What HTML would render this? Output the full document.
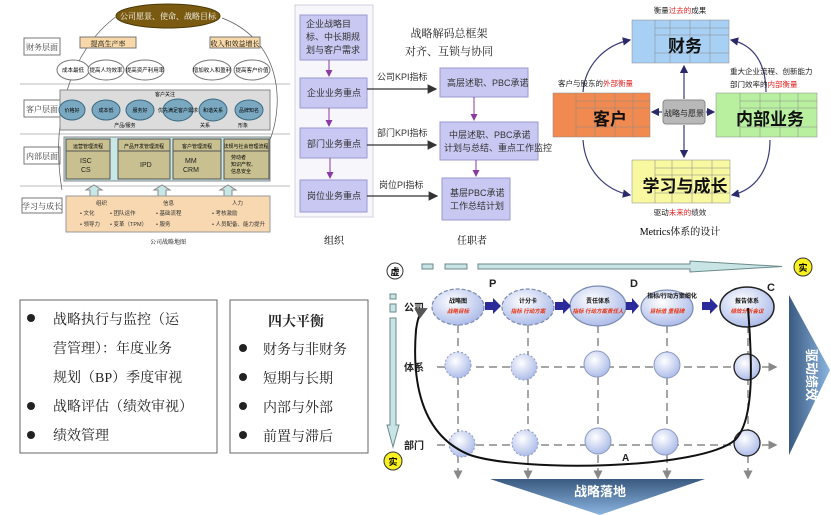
<!DOCTYPE html>
<html><head><meta charset="utf-8"><style>
html,body{margin:0;padding:0;background:#fff;}
svg{display:block;}
text{font-family:"Liberation Sans","Noto Sans CJK SC",sans-serif;}
.s{font-family:"Liberation Serif","Noto Serif CJK SC",serif;}
</style></head><body>
<svg width="831" height="515" viewBox="0 0 831 515" xmlns="http://www.w3.org/2000/svg">
<defs>
<marker id="ah" markerWidth="8" markerHeight="8" refX="7" refY="4" orient="auto"><path d="M0,0 L8,4 L0,8 z" fill="#333"/></marker>
<marker id="ap" markerWidth="7" markerHeight="7" refX="6" refY="3.5" orient="auto"><path d="M0,0 L7,3.5 L0,7 z" fill="#8a3aa0"/></marker>
<marker id="an" markerWidth="7" markerHeight="7" refX="6" refY="3.5" orient="auto"><path d="M0,0 L7,3.5 L0,7 z" fill="#2a2a6a"/></marker>
<marker id="ag" markerWidth="6" markerHeight="6" refX="5" refY="3" orient="auto"><path d="M0,0 L6,3 L0,6 z" fill="#888"/></marker>
<marker id="ak" markerWidth="6" markerHeight="6" refX="5" refY="3" orient="auto"><path d="M0,0 L6,3 L0,6 z" fill="#555"/></marker>
<radialGradient id="bub" cx="40%" cy="35%" r="70%"><stop offset="0" stop-color="#ffffff"/><stop offset="1" stop-color="#a8b8e8"/></radialGradient>
<linearGradient id="bl" x1="0" y1="0" x2="1" y2="0"><stop offset="0" stop-color="#3a5a80"/><stop offset="1" stop-color="#8ab4e0"/></linearGradient>
<linearGradient id="bd" x1="0" y1="0" x2="0" y2="1"><stop offset="0" stop-color="#3a5a80"/><stop offset="1" stop-color="#8ab4e0"/></linearGradient>
</defs>

<!-- ===== Top-left strategy map ===== -->
<g stroke="#bbb" stroke-width="1"><line x1="20" y1="84" x2="290" y2="84"/><line x1="20" y1="134" x2="290" y2="134"/><line x1="20" y1="186" x2="290" y2="186"/></g>
<g fill="#fff" stroke="#777"><rect x="24" y="38" width="36" height="17"/><rect x="24" y="100" width="36" height="17"/><rect x="24" y="147" width="36" height="17"/><rect x="22" y="198" width="40" height="15"/></g>
<g font-size="8" class="s" fill="#333" text-anchor="middle"><text x="42" y="50" class="s">财务层面</text><text x="42" y="112" class="s">客户层面</text><text x="42" y="159" class="s">内部层面</text><text x="42" y="209" class="s">学习与成长</text></g>
<ellipse cx="168" cy="16" rx="52" ry="12" fill="#7a5a10" stroke="#4a3a08"/>
<text x="168" y="19" font-size="8" fill="#fff" text-anchor="middle" class="s">公司愿景、使命、战略目标</text>
<path d="M62,190 C50,120 70,50 117,16" fill="none" stroke="#555" stroke-width="0.7"/>
<path d="M270,140 C285,100 280,40 222,18" fill="none" stroke="#555" stroke-width="0.7"/>
<rect x="80" y="37" width="56" height="11" fill="#f8d8a8" stroke="#777"/><text x="108" y="46" font-size="7" text-anchor="middle" class="s">提高生产率</text>
<rect x="210" y="37" width="50" height="11" fill="#f8d8a8" stroke="#777"/><text x="235" y="46" font-size="7" text-anchor="middle" class="s">收入和效益增长</text>
<g fill="#fff" stroke="#777"><ellipse cx="73" cy="70" rx="16" ry="10"/><ellipse cx="106" cy="70" rx="18" ry="10"/><ellipse cx="145" cy="70" rx="19" ry="10"/><ellipse cx="212" cy="70" rx="19" ry="10"/><ellipse cx="252" cy="70" rx="18" ry="10"/></g>
<g font-size="5.5" text-anchor="middle" class="s"><text x="73" y="72">成本最低</text><text x="106" y="72">提高人均效率</text><text x="145" y="72">提高资产利用率</text><text x="212" y="72">增加收入和盈利</text><text x="252" y="72">提高客户价值</text></g>
<rect x="60" y="90" width="210" height="40" fill="#dcdcdc" stroke="#888"/>
<g fill="#7aa8c0" stroke="#3a6a80"><ellipse cx="72" cy="110" rx="13" ry="10"/><ellipse cx="106" cy="110" rx="14" ry="10"/><ellipse cx="140" cy="110" rx="14" ry="10"/><ellipse cx="178" cy="110" rx="15" ry="11"/><ellipse cx="213" cy="110" rx="14" ry="11"/><ellipse cx="249" cy="110" rx="14" ry="10"/></g>
<g font-size="5" text-anchor="middle" class="s"><text x="72" y="112">价格好</text><text x="106" y="112">成本低</text><text x="140" y="112">服务好</text><text x="178" y="112">优先满足客户需求</text><text x="213" y="112">和谐关系</text><text x="249" y="112">品牌知名</text><text x="165" y="96">客户关注</text><text x="125" y="127">产品/服务</text><text x="205" y="127">关系</text><text x="243" y="127">形象</text></g>
<rect x="64" y="137" width="206" height="44" fill="#c8e8e8" stroke="#888"/>
<g fill="#c8c090" stroke="#555"><rect x="66" y="139" width="44" height="40"/><rect x="118" y="139" width="52" height="40"/><rect x="173" y="139" width="48" height="40"/><rect x="224" y="139" width="45" height="40"/></g>
<g fill="none" stroke="#555"><line x1="66" y1="151" x2="110" y2="151"/><line x1="118" y1="151" x2="170" y2="151"/><line x1="173" y1="151" x2="221" y2="151"/><line x1="224" y1="151" x2="269" y2="151"/></g>
<g font-size="5" text-anchor="middle" class="s"><text x="88" y="148">运营管理流程</text><text x="144" y="148">产品开发管理流程</text><text x="197" y="148">客户管理流程</text><text x="246" y="148">法规与社会管理流程</text></g>
<g font-size="7" fill="#222"><text x="80" y="163">ISC</text><text x="81" y="172">CS</text><text x="140" y="167">IPD</text><text x="185" y="163">MM</text><text x="183" y="172">CRM</text></g>
<g font-size="5" class="s"><text x="231" y="159">劳动者</text><text x="231" y="166">知识产权、</text><text x="231" y="173">信息安全</text></g>
<g fill="#c8e8e8" stroke="#888"><path d="M90,196 v-6 h-4 l8,-5 l8,5 h-4 v6z"/><path d="M158,196 v-6 h-4 l8,-5 l8,5 h-4 v6z"/><path d="M224,196 v-6 h-4 l8,-5 l8,5 h-4 v6z"/></g>
<rect x="66" y="196" width="204" height="36" fill="#f8d8b0" stroke="#999"/>
<g font-size="5.5" class="s" fill="#333"><text x="96" y="205">组织</text><text x="163" y="205">信息</text><text x="232" y="205">人力</text>
<text x="80" y="215">• 文化</text><text x="110" y="215">• 团队运作</text><text x="156" y="215">• 基础流程</text><text x="212" y="215">• 考核激励</text>
<text x="80" y="226">• 领导力</text><text x="110" y="226">• 变革（TPM）</text><text x="156" y="226">• 服务</text><text x="212" y="226">• 人员配备、能力提升</text></g>
<text x="168" y="244" font-size="6" text-anchor="middle" class="s">公司战略地图</text>

<!-- ===== Middle framework ===== -->
<rect x="295" y="5" width="78" height="212" fill="#f7f7fb" stroke="#d0d0e0"/>
<g fill="#c8c8f2" stroke="#9a9ad0"><rect x="300" y="15" width="67" height="45"/><rect x="300" y="78" width="67" height="30"/><rect x="300" y="128" width="67" height="30"/><rect x="300" y="180" width="67" height="32"/>
<rect x="440" y="68" width="88" height="29"/><rect x="440" y="122" width="98" height="38"/><rect x="442" y="178" width="68" height="42"/></g>
<g font-size="9" fill="#333"><text x="306" y="27">企业战略目</text><text x="306" y="40">标、中长期规</text><text x="306" y="53">划与客户需求</text>
<text x="307" y="96">企业业务重点</text><text x="307" y="147">部门业务重点</text><text x="307" y="199">岗位业务重点</text>
<text x="447" y="86">高层述职、PBC承诺</text><text x="449" y="138">中层述职、PBC承诺</text><text x="444" y="151">计划与总结、重点工作监控</text>
<text x="450" y="196">基层PBC承诺</text><text x="450" y="209">工作总结计划</text>
<text x="377" y="80">公司KPI指标</text><text x="377" y="136">部门KPI指标</text><text x="379" y="188">岗位PI指标</text></g>
<g stroke="#8a3aa0" stroke-width="1" marker-end="url(#ap)"><line x1="329" y1="60" x2="329" y2="76"/><line x1="329" y1="108" x2="329" y2="126"/><line x1="330" y1="158" x2="330" y2="178"/><line x1="474" y1="97" x2="474" y2="120"/><line x1="476" y1="160" x2="476" y2="176"/></g>
<g stroke="#333" stroke-width="1.2" marker-end="url(#ah)"><line x1="367" y1="89" x2="436" y2="89"/><line x1="367" y1="145" x2="436" y2="145"/><line x1="367" y1="196" x2="437" y2="196"/></g>
<text x="449" y="37" font-size="11" text-anchor="middle" class="s" fill="#222">战略解码总框架</text>
<text x="449" y="55" font-size="11" text-anchor="middle" class="s" fill="#222">对齐、互锁与协同</text>
<text x="334" y="244" font-size="10" text-anchor="middle" class="s">组织</text>
<text x="472" y="244" font-size="10" text-anchor="middle" class="s">任职者</text>

<!-- ===== Right metrics ===== -->
<g fill="none" stroke="#3a3a7a" stroke-width="1.2" marker-end="url(#an)">
<path d="M583,92 C585,65 605,45 630,40"/><path d="M766,92 C766,65 755,45 731,40"/>
<path d="M583,140 C585,170 605,190 630,195"/><path d="M770,140 C770,170 755,190 732,195"/>
<line x1="684" y1="99" x2="684" y2="66"/><line x1="684" y1="125" x2="684" y2="157"/><line x1="662" y1="112" x2="652" y2="112"/><line x1="706" y1="112" x2="714" y2="112"/></g>
<g stroke="#888" stroke-width="0.5">
<rect x="632" y="20" width="97" height="43" fill="#a8d0f4"/><rect x="553" y="93" width="97" height="44" fill="#f08a50"/><rect x="716" y="93" width="101" height="44" fill="#b8f0a0"/><rect x="632" y="160" width="98" height="43" fill="#f8f8a0"/>
<path d="M655,28 h74 M655,35 h74 M655,53 h74 M655,20 v43 M670,20 v43 M690,20 v43 M710,20 v43" fill="none"/>
<path d="M576,101 h74 M576,108 h74 M576,127 h74 M576,93 v44 M595,93 v44 M615,93 v44 M633,93 v44" fill="none"/>
<path d="M740,101 h77 M740,108 h77 M740,127 h77 M740,93 v44 M760,93 v44 M780,93 v44 M798,93 v44" fill="none"/>
<path d="M655,168 h75 M655,175 h75 M655,193 h75 M655,160 v43 M672,160 v43 M692,160 v43 M712,160 v43" fill="none"/></g>
<g font-size="17" font-weight="bold" fill="#111" text-anchor="middle"><text x="685" y="52">财务</text><text x="610" y="125">客户</text><text x="770" y="125">内部业务</text><text x="685" y="192">学习与成长</text></g>
<rect x="663" y="100" width="42" height="24" rx="3" fill="#b8b8b8" stroke="#888"/>
<text x="684" y="116" font-size="8" text-anchor="middle" fill="#222">战略与愿景</text>
<g font-size="7.5" fill="#222"><text x="680" y="13" text-anchor="middle">衡量<tspan fill="#e02020">过去的</tspan>成果</text>
<text x="558" y="86">客户与股东的<tspan fill="#e02020">外部衡量</tspan></text>
<text x="730" y="74">重大企业流程、创新能力</text><text x="730" y="87">部门效率的<tspan fill="#e02020">内部衡量</tspan></text>
<text x="680" y="215" text-anchor="middle">驱动<tspan fill="#e02020">未来的</tspan>绩效</text></g>
<text x="680" y="235" font-size="10" text-anchor="middle" class="s">Metrics体系的设计</text>

<!-- ===== Bottom-left boxes ===== -->
<rect x="20" y="300" width="197" height="153" fill="#fff" stroke="#666"/>
<rect x="230" y="300" width="138" height="153" fill="#fff" stroke="#666"/>
<g font-size="14" fill="#222" class="s">
<circle cx="31" cy="318" r="4"/><text x="53" y="324" class="s">战略执行与监控（运</text>
<text x="53" y="353" class="s">营管理）：年度业务</text>
<text x="53" y="382" class="s">规划（BP）季度审视</text>
<circle cx="31" cy="406" r="4"/><text x="53" y="411" class="s">战略评估（绩效审视）</text>
<circle cx="31" cy="435" r="4"/><text x="53" y="440" class="s">绩效管理</text>
<text x="268" y="326" font-weight="bold" class="s">四大平衡</text>
<circle cx="243" cy="348" r="4"/><text x="263" y="354" class="s">财务与非财务</text>
<circle cx="243" cy="377" r="4"/><text x="263" y="383" class="s">短期与长期</text>
<circle cx="243" cy="406" r="4"/><text x="263" y="412" class="s">内部与外部</text>
<circle cx="243" cy="435" r="4"/><text x="263" y="441" class="s">前置与滞后</text></g>

<!-- ===== Bottom-right PDCA grid ===== -->
<g fill="#c8e4e4" stroke="#6a8a8a"><rect x="422" y="264" width="11" height="5"/><rect x="445" y="264" width="22" height="5"/>
<path d="M478,264 H690 V261 L782,266.5 L690,272 V269 H478z"/>
<rect x="390" y="294" width="6" height="5"/><rect x="390" y="304" width="6" height="8"/>
<path d="M390,318 V425 H387 L393,447 L399,425 H396 V318z"/></g>
<circle cx="395" cy="271" r="8" fill="#fff" stroke="#333"/><text x="395" y="275" font-size="9" font-weight="bold" text-anchor="middle">虚</text>
<circle cx="803" cy="267" r="9" fill="#f8f020" stroke="#333"/><text x="803" y="271" font-size="9" font-weight="bold" text-anchor="middle">实</text>
<circle cx="393" cy="461" r="9" fill="#f8f020" stroke="#333"/><text x="393" y="465" font-size="9" font-weight="bold" text-anchor="middle">实</text>
<g font-size="10" font-weight="bold" fill="#222"><text x="404" y="311">公司</text><text x="404" y="371">体系</text><text x="404" y="449">部门</text>
<text x="489" y="287" font-size="11">P</text><text x="630" y="287" font-size="11">D</text><text x="767" y="291" font-size="11">C</text><text x="622" y="461" font-size="10">A</text></g>
<!-- bottom big arrows -->
<path d="M490,479 H705 L600,515 z" fill="url(#bd)"/>
<text x="600" y="496" font-size="13" fill="#fff" text-anchor="middle" font-weight="bold">战略落地</text>
<path d="M789,295 L830,370 L789,455 z" fill="url(#bl)"/>
<text transform="translate(807,375) rotate(90)" font-size="13" fill="#fff" text-anchor="middle" font-weight="bold">驱动绩效</text>
<!-- grid lines -->
<g stroke="#888" stroke-width="1.5" stroke-dasharray="8,5" fill="none">
<line x1="437" y1="367" x2="776" y2="367" marker-end="url(#ag)"/><line x1="437" y1="445" x2="776" y2="445" marker-end="url(#ag)"/>
<line x1="458" y1="325" x2="458" y2="478" marker-end="url(#ag)"/><line x1="528" y1="325" x2="528" y2="478" marker-end="url(#ag)"/><line x1="598" y1="325" x2="598" y2="478" marker-end="url(#ag)"/><line x1="667" y1="325" x2="667" y2="478" marker-end="url(#ag)"/><line x1="748" y1="325" x2="748" y2="478" marker-end="url(#ag)"/></g>
<g fill="url(#bub)" stroke="#8a9ac0" stroke-width="1">
<circle cx="458" cy="365" r="13" stroke-dasharray="2,2"/><circle cx="524" cy="367" r="13" stroke-dasharray="2,2"/><circle cx="597" cy="364" r="13"/><circle cx="667" cy="365" r="13"/>
<circle cx="462" cy="444" r="13" stroke-dasharray="2,2"/><circle cx="525" cy="443" r="13" stroke-dasharray="2,2"/><circle cx="598" cy="441" r="13"/><circle cx="665" cy="442" r="13"/></g>
<g fill="url(#bub)" stroke="#222" stroke-width="1.3"><circle cx="747" cy="367" r="13"/><circle cx="747" cy="443" r="13"/></g>
<!-- top ellipses -->
<g fill="url(#bub)" stroke="#7a8ab0" stroke-width="1.2">
<ellipse cx="458" cy="307" rx="26" ry="18" stroke-dasharray="4,2"/><ellipse cx="528" cy="307" rx="26" ry="18" stroke-dasharray="4,2"/><ellipse cx="598" cy="306" rx="28" ry="20"/><ellipse cx="667" cy="308" rx="26" ry="18"/></g>
<ellipse cx="747" cy="307" rx="27" ry="20" fill="url(#bub)" stroke="#222" stroke-width="1.5"/>
<g fill="#2a2a9a"><path d="M485,302 h8 v-4 l8,8 l-8,8 v-4 h-8z"/><path d="M555,302 h8 v-4 l8,8 l-8,8 v-4 h-8z"/><path d="M626,302 h6 v-4 l7,8 l-7,8 v-4 h-6z"/><path d="M702,302 h8 v-4 l8,8 l-8,8 v-4 h-8z"/></g>
<g font-size="6" font-weight="bold" text-anchor="middle" fill="#111"><text x="458" y="303">战略图</text><text x="528" y="303">计分卡</text><text x="598" y="303">责任体系</text><text x="672" y="298">指标/行动方案细化</text><text x="747" y="303">报告体系</text></g>
<g font-size="5.5" font-style="italic" font-weight="bold" text-anchor="middle" fill="#e83010"><text x="458" y="313">战略目标</text><text x="528" y="313">指标 行动方案</text><text x="598" y="313">指标 行动方案责任人</text><text x="667" y="313">目标值 里程碑</text><text x="747" y="313">绩效分析会议</text></g>
<!-- loop -->
<path d="M748,308 C752,360 755,420 735,440 C700,470 520,472 470,455 C420,435 412,380 416,330 C418,316 420,312 426,309" fill="none" stroke="#111" stroke-width="2" marker-end="url(#ak)"/>
</svg>
</body></html>
